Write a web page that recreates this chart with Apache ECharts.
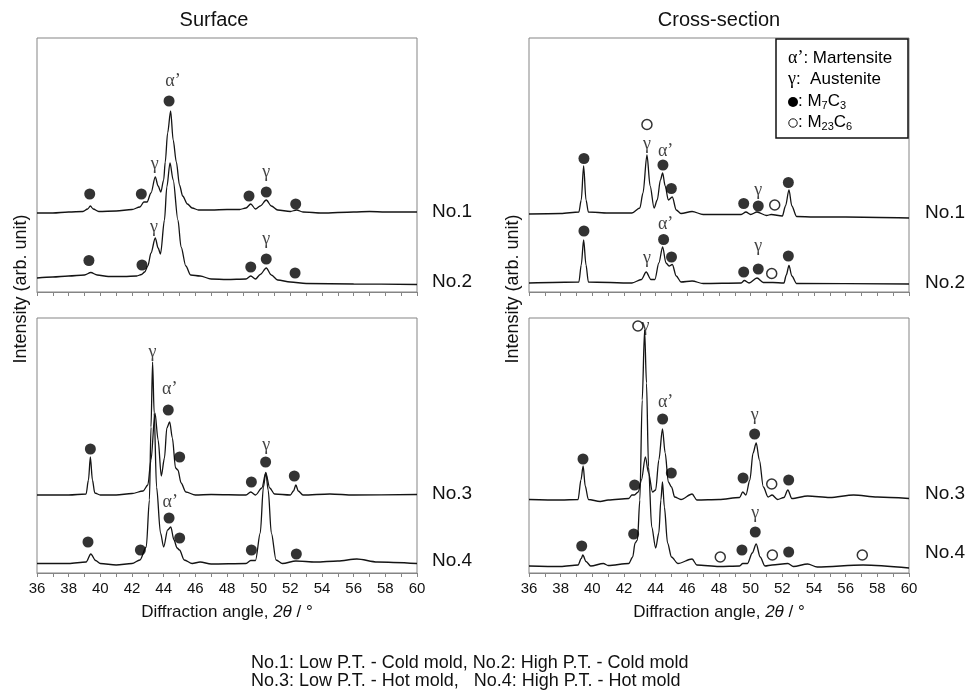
<!DOCTYPE html>
<html>
<head>
<meta charset="utf-8">
<title>XRD patterns</title>
<script src="https://cdn.jsdelivr.net/npm/echarts@6/dist/echarts.min.js"></script>
<style>
  html, body { margin: 0; padding: 0; background: #fff; }
  #chart { width: 971px; height: 697px; }
</style>
</head>
<body>
<div id="chart"></div>
<script>
// diffraction angle (2theta) vs intensity (arb. unit, offset per trace)
const surfNo1 = [[36,79],[37,79],[38,80],[38.9,80.5],[39.2,83],[39.37,86],[39.55,83],[39.9,80.5],[41,81],[42,82.5],[42.5,85],[42.75,90],[42.95,90],[43.2,99],[43.47,115],[43.65,106],[43.82,100],[44.0,112],[44.1,130],[44.25,159],[44.44,181],[44.6,152],[44.8,130],[45.0,107],[45.2,96],[45.5,88],[45.8,84],[46.2,82],[47,82],[48,82.5],[48.8,82.5],[49.2,84],[49.5,88],[49.8,83],[50.1,86],[50.48,92],[50.8,86],[51.2,82],[52,80.5],[52.4,82],[52.8,80],[54,79],[56,80],[57,80.5],[58,80],[60,80]];
const surfNo2 = [[36,14],[37,15],[38,16],[39,17],[39.4,19.5],[39.8,17],[40.5,15.5],[41.5,15.5],[42.3,16],[42.6,17.5],[42.8,20],[43.0,26],[43.2,39],[43.47,54],[43.65,44],[43.8,38],[44.05,72],[44.2,105],[44.4,129],[44.6,112],[44.9,72],[45.1,45],[45.4,26],[45.7,17],[46.3,16],[47,13],[48,12.5],[49.2,13],[49.5,16],[49.8,13],[50.1,17.5],[50.48,24],[50.8,17],[51.2,12],[52,10],[53,8.5],[56,8],[60,7.5]];
const crossNo1 = [[36,78],[38,78.5],[39.15,80],[39.3,92],[39.45,126],[39.6,92],[39.75,80],[41,79],[42.5,79],[43.0,84],[43.2,99],[43.45,137],[43.65,106],[43.9,84],[44.1,92],[44.3,112],[44.44,119],[44.6,106],[44.8,92],[45.05,95],[45.3,82],[45.6,78.5],[46.3,80.5],[47,77.5],[49.4,77.5],[49.7,80],[50,77.5],[50.4,80],[51,76.5],[51.3,77.5],[52,76],[52.2,86],[52.42,102],[52.6,86],[52.9,75.5],[54,75],[56,75],[60,74]];
const crossNo2 = [[36,9],[39.15,10],[39.3,27],[39.45,52],[39.6,27],[39.75,10],[42.5,9],[43.1,12.5],[43.4,20],[43.7,12.5],[43.95,12.5],[44.2,29],[44.44,45],[44.65,29],[44.85,26],[45.05,27.5],[45.3,16],[45.6,10],[46.3,11],[47,8.5],[49.4,9],[49.6,11.5],[49.9,9],[50.4,14],[50.8,9.5],[51.4,9.5],[52.1,9],[52.25,17],[52.42,26.5],[52.6,16],[52.9,8.5],[60,8]];
const surfNo3 = [[36,78],[38,78],[39.1,79],[39.25,93],[39.37,116],[39.5,93],[39.65,80],[40,78],[41,78],[42,79.5],[42.7,82],[43.0,88],[43.2,113],[43.45,160],[43.65,133],[43.85,97],[44.05,115],[44.2,145],[44.38,151],[44.55,135],[44.75,105],[44.9,103],[45.1,90],[45.4,81],[46,78],[47,78.5],[49.2,78],[49.5,81],[49.8,78],[50.2,85],[50.45,100],[50.7,85],[51.0,79],[52.0,78],[52.2,82],[52.35,88],[52.5,82],[52.8,78],[54.5,79],[56,78],[60,78.5]];
const surfNo4 = [[36,9.5],[38,9.5],[39.1,11],[39.4,19],[39.7,12.5],[40,9.5],[41,8],[42,9.5],[42.5,13],[42.9,26],[43.1,73],[43.2,146],[43.3,211],[43.4,160],[43.55,86],[43.8,40],[44.0,26],[44.25,43],[44.45,46],[44.65,33],[44.85,25],[45.0,23],[45.3,13],[45.8,9.5],[46.3,11],[47,9],[49.2,9.5],[49.5,12.5],[49.8,12.5],[50.1,40],[50.3,86],[50.45,100.5],[50.6,83],[50.8,40],[51.1,13],[51.5,9.5],[52.35,12],[53.6,11],[55,12],[56.2,14],[57.5,11],[60,9.5]];
const crossNo3 = [[36,73.5],[38,73],[39.1,73.5],[39.28,93],[39.42,107],[39.55,87],[39.75,73.5],[40.5,71.5],[41,73],[42.3,74.5],[42.5,78],[42.65,78],[42.9,81],[43.1,93],[43.35,116],[43.55,100],[43.8,81],[44.0,83],[44.2,113],[44.43,144],[44.6,120],[44.8,91],[45.0,86],[45.2,76],[45.6,73.5],[46.3,79],[46.6,73],[48,73.5],[49.3,75.5],[49.5,81],[49.7,78],[49.95,93],[50.15,120],[50.35,130],[50.55,113],[50.8,86],[51.1,76],[51.35,78],[51.7,73.5],[52.1,75.5],[52.35,83],[52.6,74.5],[53.6,77],[55,75.5],[56.5,78],[58,76],[60,74.5]];
const crossNo4 = [[36,7],[38,6.5],[39.1,8],[39.3,14.5],[39.4,18],[39.6,11.5],[39.9,7],[40.7,9.5],[41,7.5],[42.3,9.5],[42.55,16],[42.7,30],[42.85,33],[43.0,73],[43.15,173],[43.3,243],[43.42,190],[43.55,106],[43.75,46],[44.0,25],[44.2,40],[44.33,73],[44.43,91],[44.55,66],[44.75,30],[45.0,16],[45.4,9.5],[46.3,14],[46.6,8],[48,6.5],[49.3,7],[49.5,9.5],[49.8,9.5],[50.1,20],[50.35,29],[50.6,16],[50.9,7],[51.35,8],[52.35,9.5],[52.7,6.5],[53.6,9],[54.2,6],[57.1,8],[60,5]];

// phase markers: filled = M7C3, open = M23C6
const surfTopM7C3 = [[39.33,98],[42.59,98],[44.34,191],[49.39,96],[50.48,100],[52.34,88],[39.28,31.5],[42.63,27],[49.5,25],[50.48,33],[52.3,19]];
const surfTopText = [[44.59,211,'α’'],[43.43,128,'γ'],[50.48,120,'γ'],[43.39,65,'γ'],[50.48,53,'γ']];
const crossTopM7C3 = [[39.47,133.5],[44.46,127],[44.99,103.5],[49.56,88.5],[50.48,86],[52.38,109.5],[39.47,61],[44.5,52.5],[45.0,35],[49.56,20],[50.48,23],[52.38,36]];
const crossTopM23C6 = [[43.45,167.5],[51.52,87],[51.33,18.5]];
const crossTopText = [[43.45,148,'γ'],[44.63,141,'α’'],[50.48,101.5,'γ'],[43.45,33.5,'γ'],[44.63,67.5,'α’'],[50.48,46,'γ']];
const surfBotM7C3 = [[39.37,124],[44.29,163],[45.01,116],[49.54,91],[50.44,111],[52.25,97],[39.22,31],[42.53,23],[44.34,55],[45.01,35],[49.54,23],[52.38,19]];
const surfBotText = [[43.3,221,'γ'],[44.38,184,'α’'],[50.48,128,'γ'],[44.42,71,'α’']];
const crossBotM7C3 = [[39.41,114],[42.67,88],[44.44,154],[44.99,100],[49.52,95],[50.25,139],[52.4,93],[39.33,27],[42.61,39],[49.45,23],[50.29,41],[52.4,21]];
const crossBotM23C6 = [[51.33,89],[42.88,247],[48.08,16],[51.37,18],[57.05,18]];
const crossBotText = [[43.35,247,'γ'],[44.63,171,'α’'],[50.25,158,'γ'],[50.29,60,'γ']];

const sampleNames = ['No.1', 'No.2', 'No.3', 'No.4'];
const columnTitles = ['Surface', 'Cross-section'];

const sans = 'Liberation Sans, Arial, sans-serif';
const serif = 'Liberation Serif, Times New Roman, serif';
const frameColor = '#858585';
const lineColor = '#141414';

const grids = [
  { left: 37, top: 38, width: 380, height: 254 },
  { left: 529, top: 38, width: 380, height: 254 },
  { left: 37, top: 318, width: 380, height: 255 },
  { left: 529, top: 318, width: 380, height: 255 }
];

function xAxisFor(i) {
  const bottom = i >= 2;
  return {
    gridIndex: i, type: 'value', min: 36, max: 60, interval: 2,
    axisLine: { lineStyle: { color: frameColor, width: 1 } },
    axisTick: { length: 4, lineStyle: { color: frameColor } },
    minorTick: { show: true, splitNumber: 2, length: 4, lineStyle: { color: frameColor } },
    splitLine: { show: false },
    axisLabel: { show: bottom, color: '#111', fontFamily: sans, fontSize: 15, margin: 8 },
    name: bottom ? '{n|Diffraction angle, }{i|2θ}{n| / °}' : '',
    nameLocation: 'middle', nameGap: 31,
    nameTextStyle: {
      rich: {
        n: { fontFamily: sans, fontSize: 17, color: '#111' },
        i: { fontFamily: sans, fontSize: 17, fontStyle: 'italic', color: '#111' }
      }
    }
  };
}

function yAxisFor(i) {
  return { gridIndex: i, type: 'value', min: 0, max: i >= 2 ? 255 : 254, show: false };
}

function trace(data, i) {
  return {
    type: 'line', data: data, xAxisIndex: i, yAxisIndex: i,
    showSymbol: false, smooth: 0.3, smoothMonotone: 'x', silent: true,
    lineStyle: { color: lineColor, width: 1.3 }, z: 2
  };
}

function filled(data, i) {
  return {
    type: 'scatter', data: data, xAxisIndex: i, yAxisIndex: i, symbolSize: 11, silent: true,
    itemStyle: { color: '#000' }, z: 3
  };
}

function hollow(data, i) {
  return {
    type: 'scatter', data: data, xAxisIndex: i, yAxisIndex: i, symbolSize: 10, silent: true,
    itemStyle: { color: '#fff', borderColor: '#000', borderWidth: 1.5 }, z: 3
  };
}

function phaseText(data, i) {
  return {
    type: 'scatter', data: data, xAxisIndex: i, yAxisIndex: i, symbolSize: 1, silent: true,
    itemStyle: { color: 'rgba(0,0,0,0)' }, z: 4,
    label: {
      show: true, position: 'inside', formatter: p => p.value[2],
      fontFamily: serif, fontSize: 18, color: '#111'
    }
  };
}

function plainText(x, y, text, size, align) {
  return {
    type: 'text', x: x, y: y, silent: true,
    style: { text: text, fontFamily: sans, fontSize: size, fill: '#111',
             textAlign: align || 'left', textVerticalAlign: 'middle' }
  };
}

const nameY = [[212, 282, 494, 561], [213, 283, 494, 553]];

const graphics = [
  plainText(214, 20, columnTitles[0], 20, 'center'),
  plainText(719, 20, columnTitles[1], 20, 'center'),
  Object.assign(plainText(21, 289, 'Intensity (arb. unit)', 18, 'center'), { rotation: Math.PI / 2 }),
  Object.assign(plainText(513, 289, 'Intensity (arb. unit)', 18, 'center'), { rotation: Math.PI / 2 }),
  plainText(251, 663, 'No.1: Low P.T. - Cold mold, No.2: High P.T. - Cold mold', 18),
  plainText(251, 681, 'No.3: Low P.T. - Hot mold,   No.4: High P.T. - Hot mold', 18)
];
sampleNames.forEach((n, k) => {
  graphics.push(plainText(432, nameY[0][k], n, 19));
  graphics.push(plainText(925, nameY[1][k], n, 19));
});

// legend box
graphics.push({
  type: 'rect', silent: true, z: 10,
  shape: { x: 776, y: 39, width: 132, height: 99 },
  style: { fill: '#fff', stroke: '#111', lineWidth: 1.5 }
});
const legendRich = {
  g: { fontFamily: serif, fontSize: 18, color: '#111', lineHeight: 20, verticalAlign: 'middle' },
  s: { fontFamily: sans, fontSize: 17, color: '#111', lineHeight: 20, verticalAlign: 'middle' },
  sub: { fontFamily: sans, fontSize: 11, color: '#111', lineHeight: 11, verticalAlign: 'bottom' }
};
function legendLine(x, y, text) {
  return {
    type: 'text', x: x, y: y, silent: true, z: 11,
    style: { text: text, rich: legendRich, textAlign: 'left', textVerticalAlign: 'middle' }
  };
}
graphics.push(legendLine(788, 58, '{g|α’}{s|: Martensite}'));
graphics.push(legendLine(788, 79, '{g|γ}{s|:  Austenite}'));
graphics.push(legendLine(798, 101, '{s|: M}{sub|7}{s|C}{sub|3}'));
graphics.push(legendLine(798, 122, '{s|: M}{sub|23}{s|C}{sub|6}'));
graphics.push({
  type: 'circle', silent: true, z: 11,
  shape: { cx: 793, cy: 102, r: 5 }, style: { fill: '#000' }
});
graphics.push({
  type: 'circle', silent: true, z: 11,
  shape: { cx: 793, cy: 123, r: 4.2 }, style: { fill: '#fff', stroke: '#111', lineWidth: 1 }
});

const chart = echarts.init(document.getElementById('chart'));
chart.setOption({
  backgroundColor: '#fff',
  animation: false,
  grid: grids.map(g => Object.assign({ show: true, borderColor: frameColor, borderWidth: 1 }, g)),
  xAxis: [0, 1, 2, 3].map(xAxisFor),
  yAxis: [0, 1, 2, 3].map(yAxisFor),
  series: [
    trace(surfNo1, 0), trace(surfNo2, 0),
    trace(crossNo1, 1), trace(crossNo2, 1),
    trace(surfNo3, 2), trace(surfNo4, 2),
    trace(crossNo3, 3), trace(crossNo4, 3),
    filled(surfTopM7C3, 0), phaseText(surfTopText, 0),
    filled(crossTopM7C3, 1), hollow(crossTopM23C6, 1), phaseText(crossTopText, 1),
    filled(surfBotM7C3, 2), phaseText(surfBotText, 2),
    filled(crossBotM7C3, 3), hollow(crossBotM23C6, 3), phaseText(crossBotText, 3)
  ],
  graphic: graphics
});
</script>
</body>
</html>
